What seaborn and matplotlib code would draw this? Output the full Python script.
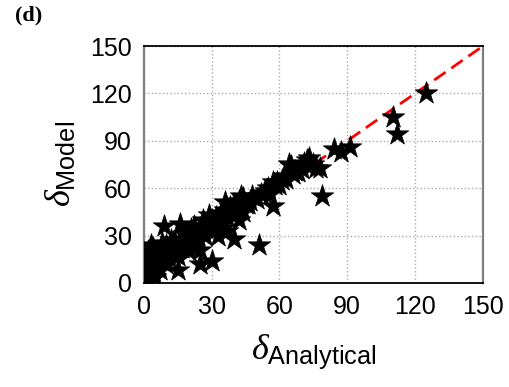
import matplotlib
matplotlib.use("Agg")
import matplotlib.pyplot as plt
import seaborn as sns
import pandas as pd

# ---- data ----
analytical = [1, 2, 1, 3, 2, 1, 3, 2, 1, 2, 4, 3, 5, 4, 5, 6, 5, 7, 6, 8, 7, 9, 8, 9,
              10, 11, 12, 10, 12, 13, 14, 15, 14, 16, 16, 17, 18, 19, 20, 21, 22, 22,
              20, 23, 24, 25, 25, 25, 26, 27, 28, 29, 30, 31, 30, 32, 33, 34, 35, 36,
              37, 35, 38, 39, 40, 40, 41, 42, 43, 44, 45, 42, 47, 48, 50, 51, 52, 54,
              55, 56, 57, 58, 59, 60, 62, 63, 65, 66, 68, 70, 72, 73, 75, 76, 78, 79,
              84, 87, 91, 110, 112, 125, 33, 37, 44, 29, 36, 43, 64, 57, 3, 6, 11, 18,
              27, 15, 4, 8, 13, 19, 24, 31, 46, 53, 61, 67, 71, 26, 21]
model = [0, 3, 5, 8, 10, 12, 14, 16, 18, 20, 22, 6, 10, 13, 17, 20, 4, 8, 12, 14, 18,
         21, 25, 36, 12, 16, 20, 24, 27, 22, 18, 8, 25, 28, 37, 22, 26, 30, 24, 28, 32,
         36, 20, 26, 30, 12, 21, 33, 36, 30, 38, 34, 40, 36, 14, 42, 38, 44, 40, 46,
         42, 35, 48, 44, 28, 50, 46, 52, 48, 54, 50, 40, 52, 55, 53, 24, 56, 58, 60,
         56, 49, 62, 64, 62, 68, 66, 74, 69, 70, 72, 78, 79, 75, 73, 73, 55, 85, 83,
         86, 105, 94, 120, 30, 33, 45, 43, 51, 55, 75, 64, 24, 15, 22, 31, 35, 17, 9,
         18, 26, 23, 27, 33, 50, 57, 65, 71, 76, 40, 34]

df = pd.DataFrame({"x": analytical, "y": model})
line_vals = [0, 150]
ticks = [0, 30, 60, 90, 120, 150]

# ---- style ----
sns.set_style("white")
plt.rcParams["font.family"] = ["Liberation Sans", "DejaVu Sans"]
plt.rcParams["mathtext.fontset"] = "custom"
plt.rcParams["mathtext.it"] = "Liberation Serif:italic"
plt.rcParams["mathtext.rm"] = "Liberation Sans"
plt.rcParams["mathtext.sf"] = "Liberation Sans"
plt.rcParams["text.color"] = "black"
plt.rcParams["axes.labelcolor"] = "black"

fig = plt.figure(figsize=(5.10, 3.87), dpi=100)
ax = fig.add_axes([0.282, 0.269, 0.665, 0.612])

sns.lineplot(x=line_vals, y=line_vals, ax=ax, color="red", lw=2,
             dashes=False, zorder=2)
ax.lines[-1].set_dashes((5, 2.5))
sns.scatterplot(data=df, x="x", y="y", ax=ax, marker="*", s=290,
                color="black", edgecolor="black", linewidth=0.5, zorder=3)

ax.set_xlim(0, 150)
ax.set_ylim(0, 150)
ax.set_xticks(ticks)
ax.set_yticks(ticks)
ax.tick_params(axis="both", labelsize=18, direction="inout", length=7,
               width=1.2, color="#555555", labelcolor="black", pad=5)
ax.grid(True, linestyle=":", color="#aaaaaa", lw=1)
ax.set_axisbelow(True)

for side in ["top", "bottom"]:
    ax.spines[side].set_color("black")
    ax.spines[side].set_linewidth(1.3)
for side in ["left", "right"]:
    ax.spines[side].set_color("#7f7f7f")
    ax.spines[side].set_linewidth(1.6)

ax.set_xlabel(r"$\delta_{\mathsf{Analytical}}$", fontsize=26, labelpad=10)
ax.set_ylabel(r"$\delta_{\mathsf{Model}}$", fontsize=26, labelpad=8)

fig.text(0.03, 0.985, "(d)", fontsize=16, fontweight="bold",
         family="Liberation Serif", va="top", color="black")

fig.savefig("out.png", dpi=100)
